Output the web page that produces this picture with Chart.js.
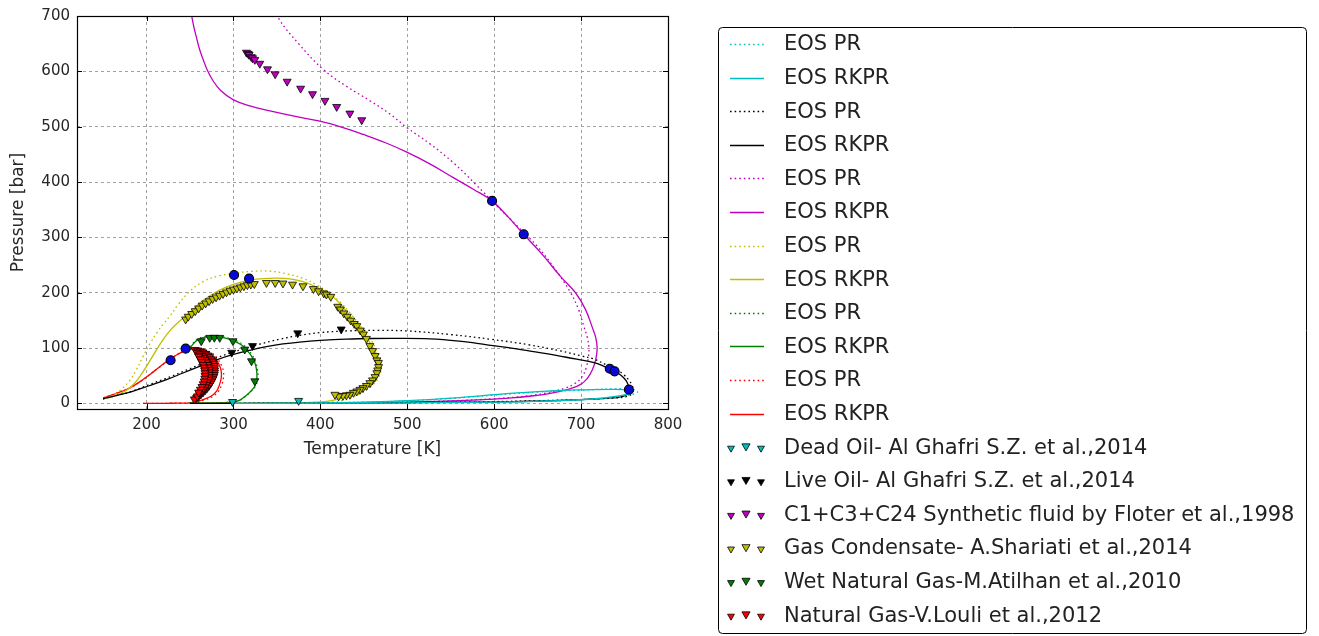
<!DOCTYPE html>
<html>
<head>
<meta charset="utf-8">
<script src="https://cdn.jsdelivr.net/npm/chart.js@4.4.1/dist/chart.umd.min.js"></script>
<style>
  html, body { margin: 0; padding: 0; background: #ffffff; }
  #wrap { width: 1319px; height: 636px; }
</style>
</head>
<body>
<div id="wrap"><canvas id="envelope" width="1319" height="636"></canvas></div>
<script>
// ---- Axis ticks ----
const tempTicks = [200, 300, 400, 500, 600, 700, 800];
const presTicks = [0, 100, 200, 300, 400, 500, 600, 700];

// ---- Legend text ----
const eosLabels = ['EOS PR', 'EOS RKPR'];
const fluidLabels = [
  'Dead Oil- Al Ghafri S.Z. et al.,2014',
  'Live Oil- Al Ghafri S.Z. et al.,2014',
  'C1+C3+C24 Synthetic fluid by Floter et al.,1998',
  'Gas Condensate- A.Shariati et al.,2014',
  'Wet Natural Gas-M.Atilhan et al.,2010',
  'Natural Gas-V.Louli et al.,2012'
];

// ---- Dead oil envelopes (T in K, P in bar) ----
const deadOilPrT = [300, 350, 400, 450, 500, 550, 600, 650, 700, 740, 758, 765, 761, 748, 725, 690, 650, 600, 500, 400, 300];
const deadOilPrP = [0.1, 0.4, 1.0, 2.3, 4.7, 9.0, 15.0, 20.5, 24.0, 26.5, 26.0, 21.5, 17.5, 13.0, 9.0, 6.0, 4.0, 2.8, 1.3, 0.5, 0.1];
const deadOilRkT = [300, 350, 400, 450, 500, 550, 600, 650, 700, 740, 754, 759, 755, 745, 720, 680, 640, 600, 500, 400, 300];
const deadOilRkP = [0.1, 0.4, 1.0, 2.5, 5.0, 9.5, 16.0, 21.5, 24.5, 25.5, 24.0, 20.5, 17.5, 14.0, 9.0, 5.5, 3.5, 2.5, 1.2, 0.5, 0.1];

// ---- Live oil envelopes ----
const liveOilPrT = [150, 167, 185, 203, 222, 241, 261, 280, 300, 330, 353, 376, 400, 430, 465, 500, 550, 596, 640, 676, 700, 715,
                    730, 740, 749, 755, 759, 760, 758, 752, 740, 720, 700, 650, 600, 500, 400, 300, 250];
const liveOilPrP = [8.5, 15, 23, 34, 45, 57, 70, 82, 93, 107, 116, 123, 128, 131, 132, 131, 124.5, 116, 106, 95, 86, 80,
                    69, 62, 52, 42, 32, 24, 17, 12.5, 10, 8.5, 7, 5, 3.4, 1.7, 0.8, 0.3, 0.1];
const liveOilRkT = [150, 165, 184, 203, 223, 242, 261, 280, 300, 320, 338, 357, 376, 400, 430, 460, 490, 520, 550, 575, 596,
                    620, 640, 660, 676, 695, 715, 725, 734, 743, 749, 753, 755, 754.5, 751, 744, 734, 720, 700, 676,
                    640, 600, 550, 500, 450, 400, 300, 250];
const liveOilRkP = [8.5, 14, 22, 32, 43, 55, 67, 78.5, 88.5, 96.5, 102.5, 107.5, 111, 114, 116.3, 117.4, 117.6, 117, 114, 110, 105,
                    100, 95, 90, 85.5, 80, 73.6, 68, 61.5, 54, 46.4, 38, 28, 20, 14.5, 11.5, 10, 8.5, 7, 5.4,
                    4, 3, 2.2, 1.5, 1, 0.7, 0.3, 0.1];

// ---- C1+C3+C24 synthetic fluid envelopes ----
const synthPrT = [348, 351.5, 375, 403, 430, 457, 480, 499.5, 527, 553, 578, 603, 627, 649.5, 670, 688, 697, 703, 707, 709,
                  708.5, 706, 701, 693, 680, 660, 640, 600, 550, 500, 450, 410];
const synthPrP = [720, 697, 650, 604, 573, 547, 523, 498.5, 468, 435, 397, 357, 320, 284, 243, 200, 170, 140, 120, 100,
                  85, 65, 48, 36, 27, 19, 14, 8.5, 4.8, 2.6, 1.4, 0.8];
const synthRkT = [249.5, 252, 254.5, 257, 261, 265, 270, 276.5, 285, 299.5, 320, 342, 370, 399.5, 425, 449.5, 475, 499.5,
                  527, 553, 576, 597.6, 616, 634, 656, 676, 693.6, 705, 713, 717, 718.5, 717, 713, 707, 699, 688, 676,
                  660, 640, 620, 600, 575, 550, 500, 450, 410];
const synthRkP = [730, 700, 680, 664, 640, 622, 602, 583, 566, 549, 537, 528.6, 519, 510, 499, 486, 471, 454,
                  432, 408, 387, 366, 337, 305.6, 268, 230, 200, 170, 137, 118, 100, 80, 61, 45, 34, 27, 22,
                  17, 13, 10, 8, 6, 4.5, 2.5, 1.3, 0.8];

// ---- Gas condensate envelopes ----
const condPrT = [150, 158, 165, 172, 180, 188, 196, 204, 212, 220, 228, 236, 250, 265, 282, 300, 320, 342, 362, 380, 396,
                 410, 423, 435, 447, 458, 466, 470, 469.5, 466, 458, 447, 435, 425, 415, 395, 380, 340, 300, 260];
const condPrP = [8.5, 12, 18, 27, 40, 60, 85, 108, 128, 145, 160, 178, 203, 220, 230, 235, 238.5, 239, 234, 226, 214,
                 200, 183, 162, 138, 115, 93, 75, 58, 44, 30, 19, 10, 5, 3, 1.8, 1.2, 0.5, 0.2, 0.1];
const condRkT = [150, 160, 170, 178, 186, 195, 205, 215, 225, 234, 245, 255, 265, 282, 300, 317, 334, 350, 365, 380, 396,
                 411, 423, 434, 446, 457, 464, 468.5, 468, 465, 458, 449.5, 438, 426, 411, 395, 380, 340, 300, 260];
const condRkP = [8.5, 12.5, 18, 25, 36, 55, 80, 106, 128, 143, 158, 172, 186, 203, 215, 222.5, 225.5, 226.5, 225, 220, 210,
                 197, 180, 158, 134, 110, 91, 74, 60, 46.5, 35, 25, 16, 10, 4.5, 2.2, 1.5, 0.5, 0.2, 0.1];

// ---- Wet natural gas envelopes ----
const wetPrT = [250, 270, 290, 300, 307, 312, 319, 325.6, 328, 327.5, 325.5, 321.8, 317, 312, 305, 296.5, 288.5, 280.5,
                272, 264.5, 257.5, 252.8, 249, 247];
const wetPrP = [0.8, 1, 1.7, 2.7, 5.5, 10.5, 20, 32, 47, 62.5, 75, 87, 96.5, 105, 112, 117, 120, 121.8,
                121.6, 119.8, 115, 107.5, 99.5, 92];
const wetRkT = [250, 260, 270, 280, 290, 300, 306, 311, 318, 324.6, 327, 326.5, 324.5, 320.8, 316, 311, 304, 295.7, 288,
                280.4, 272, 265, 258, 253.4, 249.5, 247.6];
const wetRkP = [0.8, 0.9, 1, 1.2, 1.6, 2.5, 5, 10, 19, 31, 46, 61.5, 74, 85.5, 95, 103.6, 110.5, 115.7, 118.8,
                120.6, 120.5, 118.8, 114, 106.7, 99, 91.6];

// ---- Natural gas envelopes ----
const natPrT = [150, 165, 181.5, 193, 204.5, 216, 227.5, 237, 246.8, 254, 262, 269.5, 276.5, 282, 286.5, 288.5, 288.5,
                286.5, 282.5, 276, 266.5, 258, 250, 240, 230, 210, 196];
const natPrP = [10, 18.5, 28.5, 39.5, 53, 67, 80.5, 90, 97.5, 99.5, 99, 95.5, 90, 80, 68, 57, 46,
                33.5, 21.5, 12.5, 6.5, 2.8, 1.1, 0.6, 0.4, 0.1, 0];
const natRkT = [150, 165, 180.4, 192, 203.5, 215, 226.5, 236, 245.8, 253, 261, 268, 274.6, 280, 284.2, 286, 286,
                284, 280.4, 274, 265, 257, 249.6, 240, 230, 210, 196];
const natRkP = [10, 18, 28, 39, 52, 66, 79.6, 89, 96.4, 98.3, 97.6, 94, 88.6, 79, 67.5, 57, 46.5,
                34, 22, 13, 7, 3, 1.2, 0.6, 0.4, 0.1, 0];

// ---- Measured saturation points ----
const deadOilExpT = [299, 375];
const deadOilExpP = [3, 5];
const liveOilExpT = [298, 322, 374, 424];
const liveOilExpP = [92, 104, 127, 134];
const synthExpT = [315, 317, 318, 320.6, 322, 324.6, 330.3, 339.2, 348, 361.8, 377.3, 391, 405.3, 418.8, 434, 447.6];
const synthExpP = [634, 632, 630, 626, 624, 621, 614, 604, 595, 581.6, 569, 559, 547, 536, 524, 512];
const condExpT = [245, 248, 252, 256, 260, 264, 268, 272, 276, 280, 284, 288, 292, 296, 300, 304, 308, 312, 316, 320, 324,
                  338, 348, 357, 368, 380, 392, 398, 404, 407, 412,
                  420, 423, 427, 431, 435, 439, 442, 446, 449.5, 453, 457, 460, 463, 465, 466.8, 467, 466, 465, 463, 460,
                  457, 453, 449, 445.7, 442, 438, 434, 430, 426, 421, 416.8];
const condExpP = [152, 157, 162, 167, 172, 177, 181, 185, 189, 192, 195, 198, 201, 204, 206, 208, 210, 212, 214, 215, 216,
                  218, 218, 217, 215, 212, 207, 203, 199, 197, 193,
                  175, 170, 163, 157, 150, 144, 140, 132, 125, 117, 104, 95, 86, 78, 73.6, 66, 60, 55, 48, 42,
                  37, 32, 28, 25, 22, 19.5, 16, 15, 14, 13, 16];
const wetExpT = [263, 272.7, 278, 284.2, 299.5, 313, 320.8, 324.6];
const wetExpP = [112.7, 118.8, 119, 118.8, 112.7, 97.6, 76.5, 40.3];
const natExpT = [256, 259, 262, 265, 268, 270.5, 272.5, 274.5, 276, 277, 277.8, 278.2, 278.4, 278.3, 278, 277.3, 276.3,
                 275, 273.5, 271.8, 269.8, 267.5, 265, 262.5, 260, 257.5, 255,
                 258, 261, 263.5, 265.5, 267.5, 269, 270.5, 271.5, 272, 272.3, 272.3, 272, 271.3, 270.3, 269, 267.5,
                 265.5, 263.3, 261, 258.5,
                 260, 262, 263.5, 265, 266, 266.8, 267.2, 267.3, 267, 266.3, 265.2, 263.8, 262, 260];
const natExpP = [97, 96, 94.5, 92.5, 90, 87, 84, 80, 76, 72, 68, 64, 60, 56, 52, 48, 44,
                 40, 36, 32, 28, 24, 20, 16.5, 13, 10, 7.5,
                 92, 89, 86, 82.5, 78.5, 74.5, 70, 65.5, 61, 56.5, 52, 47.5, 43, 38.5, 34, 29.5,
                 25, 21, 17, 13,
                 85, 80, 75, 70, 65, 60, 55, 50, 45, 40, 35, 30, 25, 20];

// ---- Calculated critical points ----
const critT = [227.7, 245, 300.7, 318, 597.6, 634, 733, 738.6, 755];
const critP = [78, 99, 232, 225.5, 366, 305.6, 62.7, 58, 25];

// ---- Colours ----
const cCyan = '#00bfbf', cBlack = '#000000', cMagenta = '#bf00bf',
      cYellow = '#bfbf00', cGreen = '#008000', cRed = '#ff0000';

const zip = (t, p) => t.map((v, i) => ({ x: v, y: p[i] }));

function eosCurve(t, p, color, isPR) {
  return {
    label: isPR ? eosLabels[0] : eosLabels[1],
    data: zip(t, p),
    showLine: true,
    borderColor: color,
    backgroundColor: color,
    borderWidth: 1.3,
    borderDash: isPR ? [1.6, 3] : [],
    pointRadius: 0,
    pointHoverRadius: 0,
    tension: 0.4,
    fill: false,
    order: 3
  };
}

function measured(t, p, color, label) {
  return {
    label: label,
    data: zip(t, p),
    showLine: false,
    pointStyle: 'triangle',
    rotation: 180,
    pointRadius: 4.6,
    pointHoverRadius: 4.6,
    pointBackgroundColor: color,
    pointBorderColor: '#000000',
    pointBorderWidth: 0.8,
    backgroundColor: color,
    borderColor: '#000000',
    order: 2
  };
}

const datasets = [
  eosCurve(deadOilPrT, deadOilPrP, cCyan, true),
  eosCurve(deadOilRkT, deadOilRkP, cCyan, false),
  eosCurve(liveOilPrT, liveOilPrP, cBlack, true),
  eosCurve(liveOilRkT, liveOilRkP, cBlack, false),
  eosCurve(synthPrT, synthPrP, cMagenta, true),
  eosCurve(synthRkT, synthRkP, cMagenta, false),
  eosCurve(condPrT, condPrP, cYellow, true),
  eosCurve(condRkT, condRkP, cYellow, false),
  eosCurve(wetPrT, wetPrP, cGreen, true),
  eosCurve(wetRkT, wetRkP, cGreen, false),
  eosCurve(natPrT, natPrP, cRed, true),
  eosCurve(natRkT, natRkP, cRed, false),
  measured(deadOilExpT, deadOilExpP, cCyan, fluidLabels[0]),
  measured(liveOilExpT, liveOilExpP, cBlack, fluidLabels[1]),
  measured(synthExpT, synthExpP, cMagenta, fluidLabels[2]),
  measured(condExpT, condExpP, cYellow, fluidLabels[3]),
  measured(wetExpT, wetExpP, cGreen, fluidLabels[4]),
  measured(natExpT, natExpP, cRed, fluidLabels[5]),
  {
    label: '',
    data: zip(critT, critP),
    showLine: false,
    pointStyle: 'circle',
    pointRadius: 4.5,
    pointHoverRadius: 4.5,
    pointBackgroundColor: '#0808d8',
    pointBorderColor: '#000000',
    pointBorderWidth: 1.1,
    order: 1
  }
];

const FONT = '"DejaVu Sans", "Liberation Sans", sans-serif';

// Frame with inward tick marks on all four sides.
const framePlugin = {
  id: 'frame',
  afterDatasetsDraw(chart) {
    const { ctx, chartArea: a, scales } = chart;
    ctx.save();
    ctx.strokeStyle = '#000';
    ctx.lineWidth = 1;
    ctx.setLineDash([]);
    ctx.beginPath();
    scales.x.ticks.forEach(t => {
      const px = Math.round(scales.x.getPixelForValue(t.value)) + 0.5;
      ctx.moveTo(px, a.bottom); ctx.lineTo(px, a.bottom - 5);
      ctx.moveTo(px, a.top); ctx.lineTo(px, a.top + 5);
    });
    scales.y.ticks.forEach(t => {
      const py = Math.round(scales.y.getPixelForValue(t.value)) + 0.5;
      ctx.moveTo(a.left, py); ctx.lineTo(a.left + 5, py);
      ctx.moveTo(a.right, py); ctx.lineTo(a.right - 5, py);
    });
    ctx.stroke();
    ctx.lineWidth = 1.2;
    ctx.strokeRect(Math.round(a.left) + 0.5, Math.round(a.top) + 0.5,
                   Math.round(a.right - a.left), Math.round(a.bottom - a.top));
    ctx.restore();
  }
};

// Boxed legend to the right of the axes.
const sideLegendPlugin = {
  id: 'sideLegend',
  afterDraw(chart) {
    const ctx = chart.ctx;
    const bx = 718.5, by = 27.5, bw = 588, bh = 606, r = 4;
    ctx.save();
    ctx.beginPath();
    ctx.moveTo(bx + r, by);
    ctx.lineTo(bx + bw - r, by);
    ctx.quadraticCurveTo(bx + bw, by, bx + bw, by + r);
    ctx.lineTo(bx + bw, by + bh - r);
    ctx.quadraticCurveTo(bx + bw, by + bh, bx + bw - r, by + bh);
    ctx.lineTo(bx + r, by + bh);
    ctx.quadraticCurveTo(bx, by + bh, bx, by + bh - r);
    ctx.lineTo(bx, by + r);
    ctx.quadraticCurveTo(bx, by, bx + r, by);
    ctx.closePath();
    ctx.fillStyle = '#ffffff';
    ctx.fill();
    ctx.strokeStyle = '#000000';
    ctx.lineWidth = 1;
    ctx.stroke();

    ctx.font = '21px ' + FONT;
    ctx.textBaseline = 'middle';
    ctx.textAlign = 'left';
    let row = 0;
    chart.data.datasets.forEach(ds => {
      if (!ds.label) return;
      const y = 44 + row * 33.6;
      if (ds.showLine) {
        ctx.beginPath();
        ctx.setLineDash(ds.borderDash || []);
        ctx.strokeStyle = ds.borderColor;
        ctx.lineWidth = ds.borderWidth;
        ctx.moveTo(730, Math.round(y) + 0.5);
        ctx.lineTo(764, Math.round(y) + 0.5);
        ctx.stroke();
        ctx.setLineDash([]);
      } else {
        const pts = [[731, y + 1, 4], [746, y - 1, 4.7], [761, y + 1, 4]];
        pts.forEach(([px, py, rr]) => {
          ctx.beginPath();
          ctx.moveTo(px, py + rr);
          ctx.lineTo(px - rr * 0.866, py - rr / 2);
          ctx.lineTo(px + rr * 0.866, py - rr / 2);
          ctx.closePath();
          ctx.fillStyle = ds.pointBackgroundColor;
          ctx.fill();
          ctx.strokeStyle = '#000';
          ctx.lineWidth = 0.8;
          ctx.stroke();
        });
      }
      ctx.fillStyle = '#222222';
      ctx.fillText(ds.label, 784, y + 1);
      row++;
    });
    ctx.restore();
  }
};

new Chart(document.getElementById('envelope'), {
  type: 'scatter',
  data: { datasets },
  plugins: [framePlugin, sideLegendPlugin],
  options: {
    responsive: false,
    devicePixelRatio: 1,
    animation: false,
    events: [],
    layout: { padding: { left: 0, top: 15, right: 1319 - 668, bottom: 0 } },
    plugins: { legend: { display: false }, tooltip: { enabled: false } },
    scales: {
      x: {
        type: 'linear',
        min: 120,
        max: 800,
        afterBuildTicks: s => { s.ticks = tempTicks.map(v => ({ value: v })); },
        afterFit: s => { s.height = 636 - 409; },
        grid: { color: '#a0a0a0', lineWidth: 1, drawTicks: false },
        border: { display: false, dash: [3, 3] },
        ticks: { color: '#262626', font: { family: FONT, size: 15 }, padding: 7, maxRotation: 0 },
        title: {
          display: true,
          text: 'Temperature [K]',
          color: '#262626',
          font: { family: FONT, size: 17 },
          padding: { top: 0, bottom: 636 - 450 - 10.2 }
        }
      },
      y: {
        type: 'linear',
        min: -10,
        max: 700,
        afterBuildTicks: s => { s.ticks = presTicks.map(v => ({ value: v })); },
        afterFit: s => { s.width = 77; },
        grid: { color: '#a0a0a0', lineWidth: 1, drawTicks: false },
        border: { display: false, dash: [3, 3] },
        ticks: { color: '#262626', font: { family: FONT, size: 15 }, padding: 7 },
        title: {
          display: true,
          text: 'Pressure [bar]',
          color: '#262626',
          font: { family: FONT, size: 17 },
          padding: { top: 19 - 10.2, bottom: 0 }
        }
      }
    }
  }
});
</script>
</body>
</html>
